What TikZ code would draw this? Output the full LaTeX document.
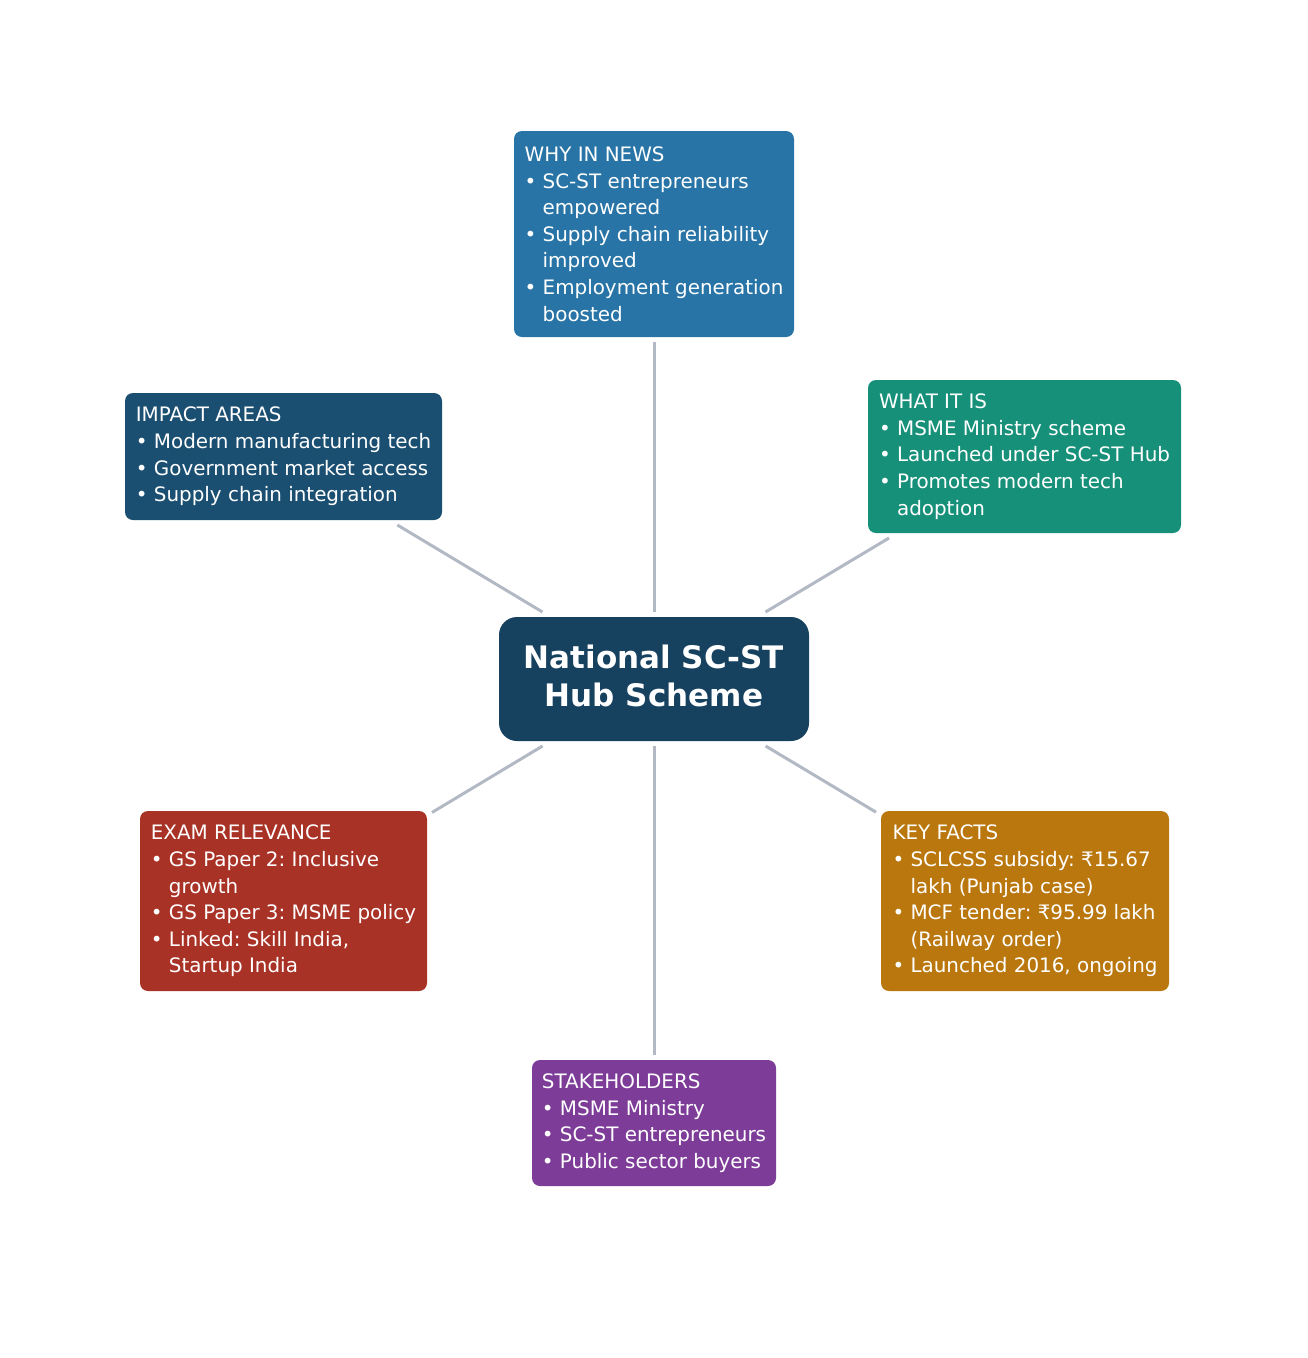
\documentclass[tikz,border=0pt]{standalone}
\usepackage{fontspec}
\setmainfont{DejaVu Sans}
\frenchspacing
\definecolor{whyc}{HTML}{2874A6}
\definecolor{whatc}{HTML}{17907A}
\definecolor{impactc}{HTML}{1B4F72}
\definecolor{centerc}{HTML}{16415F}
\definecolor{examc}{HTML}{A93226}
\definecolor{keyc}{HTML}{B9770E}
\definecolor{stakec}{HTML}{7D3C98}
\definecolor{linkgray}{HTML}{B2B9C4}
\newcommand{\hi}{\hphantom{• }}
\begin{document}
\begin{tikzpicture}[x=1pt,y=-1pt,
  box/.style={rectangle, rounded corners=8pt, text=white, align=left,
    font=\fontsize{19.9}{26.6}\selectfont\frenchspacing, inner sep=0pt, outer sep=5pt},
  hubbox/.style={rectangle, rounded corners=18pt, text=white, align=center,
    font=\fontsize{31}{38}\selectfont\bfseries, inner sep=0pt, outer sep=5pt},
  link/.style={draw=linkgray, line width=3pt}]
\useasboundingbox (0,0) rectangle (1308,1358);

\node[hubbox, fill=centerc, minimum width=310pt, minimum height=124pt] (hub) at (654,679)
  {National SC-ST\\Hub Scheme\rule[-6pt]{0pt}{0pt}};

\node[box, fill=whyc, minimum width=280pt, minimum height=206pt] (why) at (654,234)
  {WHY IN NEWS\\• SC-ST entrepreneurs\\\hi empowered\\• Supply chain reliability\\\hi improved\\• Employment generation\\\hi boosted};

\node[box, fill=whatc, minimum width=313pt, minimum height=153pt] (what) at (1024.5,456.5)
  {WHAT IT IS\\• MSME Ministry scheme\\• Launched under SC-ST Hub\\• Promotes modern tech\\\hi adoption};

\node[box, fill=impactc, minimum width=317pt, minimum height=127pt] (impact) at (283.5,456.5)
  {IMPACT AREAS\\• Modern manufacturing tech\\• Government market access\\• Supply chain integration};

\node[box, fill=examc, minimum width=287pt, minimum height=180pt] (exam) at (283.5,901)
  {EXAM RELEVANCE\\• GS Paper 2: Inclusive\\\hi growth\\• GS Paper 3: MSME policy\\• Linked: Skill India,\\\hi Startup India};

\node[box, fill=keyc, minimum width=288pt, minimum height=180pt] (key) at (1025,901)
  {KEY FACTS\\• SCLCSS subsidy: ₹15.67\\\hi lakh (Punjab case)\\• MCF tender: ₹95.99 lakh\\\hi (Railway order)\\• Launched 2016, ongoing};

\node[box, fill=stakec, minimum width=244pt, minimum height=126pt] (stake) at (654,1123)
  {STAKEHOLDERS\\• MSME Ministry\\• SC-ST entrepreneurs\\• Public sector buyers};

\draw[link] (hub) -- (why);
\draw[link] (hub) -- (what);
\draw[link] (hub) -- (impact);
\draw[link] (hub) -- (exam);
\draw[link] (hub) -- (key);
\draw[link] (hub) -- (stake);
\end{tikzpicture}
\end{document}
